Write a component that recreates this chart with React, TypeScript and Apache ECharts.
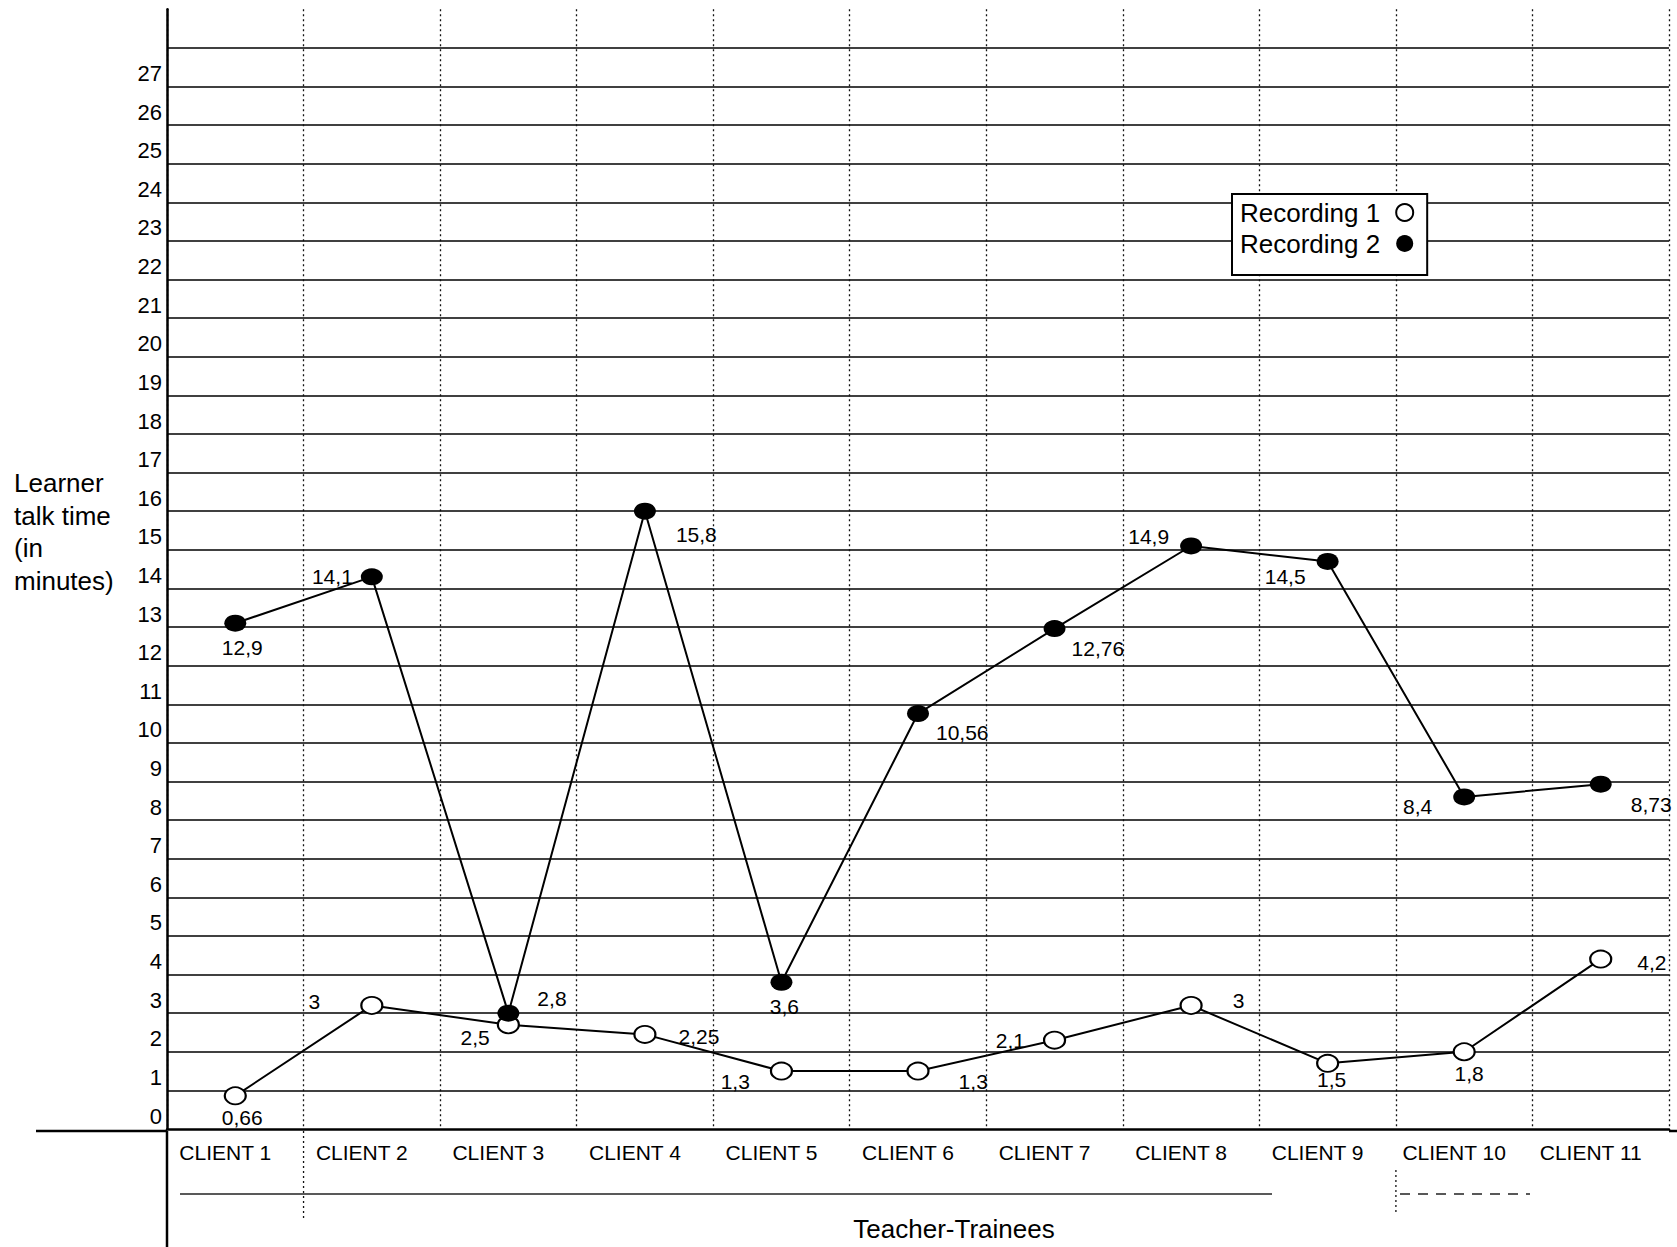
import React, { useEffect, useRef } from "react";
import * as echarts from "echarts";

const categories = [
  "CLIENT 1", "CLIENT 2", "CLIENT 3", "CLIENT 4", "CLIENT 5", "CLIENT 6",
  "CLIENT 7", "CLIENT 8", "CLIENT 9", "CLIENT 10", "CLIENT 11",
];
const recording1 = [0.66, 3, 2.5, 2.25, 1.3, 1.3, 2.1, 3, 1.5, 1.8, 4.2];
const recording2 = [12.9, 14.1, 2.8, 15.8, 3.6, 10.56, 12.76, 14.9, 14.5, 8.4, 8.73];
const yMin = 0;
const yMax = 29;
const yLastLabel = 27;
// the plotted values sit slightly above the drawn grid in the original
const plotShift = 0.2;

// label placement (style only)
const rec1LabelPos = ["bottom", "left", "left", "right", "left", "right", "left", "right", "bottom", "bottom", "right"];
const rec1LabelOffset = [[7, -3], [-35, -4], [-2, 13], [17, 2], [-15, 10], [24, 10], [-13, 0], [25, -5], [4, -9], [5, -3], [20, 3]];
const rec2LabelPos = ["bottom", "left", "right", "right", "bottom", "right", "right", "left", "left", "left", "right"];
const rec2LabelOffset = [[7, 0], [-3, 0], [13, -15], [15, 23], [3, 0], [2, 19], [1, 20], [-6, -9], [-6, 15], [-16, 10], [14, 20]];

const W = 1677;
const H = 1247;
const GRID_LEFT = 167;
const GRID_RIGHT = 8;
const AXIS_Y = 1131;
const GRID_TOP = 9.3;
const FONT = "'Liberation Sans', Arial, Helvetica, sans-serif";

const fmt = (v: number) => String(v).replace(".", ",");

export default function App() {
  const ref = useRef<HTMLDivElement>(null);

  useEffect(() => {
    if (!ref.current) return;
    const chart = echarts.init(ref.current, null, { renderer: "svg" });
    const band = (W - GRID_LEFT - GRID_RIGHT) / categories.length;

    const mkData = (vals: number[], pos: string[], off: number[][]) =>
      vals.map((v, i) => ({
        value: v,
        label: { position: pos[i], offset: off[i] },
      }));

    const labelBase = {
      show: true,
      formatter: (p: any) => fmt(p.value),
      fontSize: 21,
      color: "#000",
      fontFamily: FONT,
    };

    chart.setOption({
      animation: false,
      backgroundColor: "#fff",
      textStyle: { fontFamily: FONT, color: "#000" },
      grid: {
        left: GRID_LEFT,
        right: GRID_RIGHT,
        top: GRID_TOP,
        bottom: H - AXIS_Y,
        containLabel: false,
      },
      legend: {
        orient: "vertical",
        left: 1232,
        top: 194,
        align: "right",
        icon: "circle",
        itemWidth: 21,
        itemHeight: 17,
        itemGap: 4,
        padding: [5, 13, 18, 8],
        borderColor: "#000",
        borderWidth: 2,
        backgroundColor: "#fff",
        textStyle: {
          fontSize: 26,
          lineHeight: 27,
          color: "#000",
          fontFamily: FONT,
          padding: [0, 9, 0, 0],
        },
        data: [
          { name: "Recording 1", itemStyle: { color: "#fff", borderColor: "#000", borderWidth: 2 } },
          { name: "Recording 2", itemStyle: { color: "#000", borderColor: "#000", borderWidth: 0 } },
        ],
      },
      xAxis: {
        type: "category",
        data: categories,
        boundaryGap: true,
        name: "Teacher-Trainees",
        nameLocation: "middle",
        nameGap: 87,
        nameTextStyle: { fontSize: 26, color: "#000", fontFamily: FONT, padding: [0, 0, 0, 72] },
        axisLine: { onZero: false, lineStyle: { color: "#000", width: 2.5 } },
        axisTick: { show: false },
        axisLabel: {
          fontSize: 21,
          color: "#000",
          fontFamily: FONT,
          margin: 13,
          padding: [0, 20, 0, 0],
          interval: 0,
        },
        splitLine: {
          show: true,
          lineStyle: { color: "#111", width: 1.3, type: [2, 3] },
        },
      },
      yAxis: [
        {
          type: "value",
          min: yMin,
          max: yMax,
          interval: 1,
          axisLine: { show: true, lineStyle: { color: "#000", width: 2.5 } },
          axisTick: { show: false },
          axisLabel: {
            fontSize: 22,
            color: "#000",
            fontFamily: FONT,
            margin: 5,
            verticalAlign: "bottom",
            padding: [0, 0, 2, 0],
            formatter: (v: number) => (v > yLastLabel ? "" : String(v)),
          },
          splitLine: {
            show: true,
            showMaxLine: false,
            showMinLine: false,
            lineStyle: { color: "#000", width: 1.5 },
          },
        },
        {
          type: "value",
          show: false,
          min: yMin - plotShift,
          max: yMax - plotShift,
          splitLine: { show: false },
        },
      ],
      series: [
        {
          name: "Recording 1",
          type: "line",
          yAxisIndex: 1,
          data: mkData(recording1, rec1LabelPos, rec1LabelOffset),
          symbol: "circle",
          symbolSize: [21, 17],
          itemStyle: { color: "#fff", borderColor: "#000", borderWidth: 2 },
          lineStyle: { color: "#000", width: 2 },
          label: labelBase,
          z: 3,
        },
        {
          name: "Recording 2",
          type: "line",
          yAxisIndex: 1,
          data: mkData(recording2, rec2LabelPos, rec2LabelOffset),
          symbol: "circle",
          symbolSize: [22, 17],
          itemStyle: { color: "#000", borderColor: "#000", borderWidth: 0 },
          lineStyle: { color: "#000", width: 2 },
          label: labelBase,
          z: 3,
        },
      ],
      graphic: [
        {
          type: "text",
          left: 14,
          top: 467,
          style: {
            text: "Learner\ntalk time\n(in\nminutes)",
            fontSize: 26,
            lineHeight: 32.5,
            fontFamily: FONT,
            fill: "#000",
          },
        },
        {
          type: "line",
          shape: { x1: 36, y1: AXIS_Y, x2: GRID_LEFT, y2: AXIS_Y },
          style: { stroke: "#000", lineWidth: 2.5 },
        },
        {
          type: "line",
          shape: { x1: GRID_LEFT, y1: AXIS_Y, x2: GRID_LEFT, y2: H },
          style: { stroke: "#000", lineWidth: 2.5 },
        },
        {
          type: "line",
          shape: { x1: W - GRID_RIGHT, y1: AXIS_Y, x2: W, y2: AXIS_Y },
          style: { stroke: "#000", lineWidth: 2.5 },
        },
        {
          type: "line",
          shape: { x1: 180, y1: 1194, x2: 1272, y2: 1194 },
          style: { stroke: "#222", lineWidth: 1.5 },
        },
        {
          type: "line",
          shape: { x1: 1400, y1: 1194, x2: 1530, y2: 1194 },
          style: { stroke: "#222", lineWidth: 1.5, lineDash: [10, 8] },
        },
        {
          type: "line",
          shape: { x1: GRID_LEFT + band, y1: AXIS_Y, x2: GRID_LEFT + band, y2: 1219 },
          style: { stroke: "#111", lineWidth: 1.3, lineDash: [2, 3] },
        },
        {
          type: "line",
          shape: { x1: GRID_LEFT + 9 * band, y1: 1170, x2: GRID_LEFT + 9 * band, y2: 1214 },
          style: { stroke: "#111", lineWidth: 1.3, lineDash: [2, 3] },
        },
      ],
    });

    return () => chart.dispose();
  }, []);

  return (
    <div
      ref={ref}
      style={{ position: "absolute", left: 0, top: 0, width: W, height: H, background: "#fff" }}
    />
  );
}
